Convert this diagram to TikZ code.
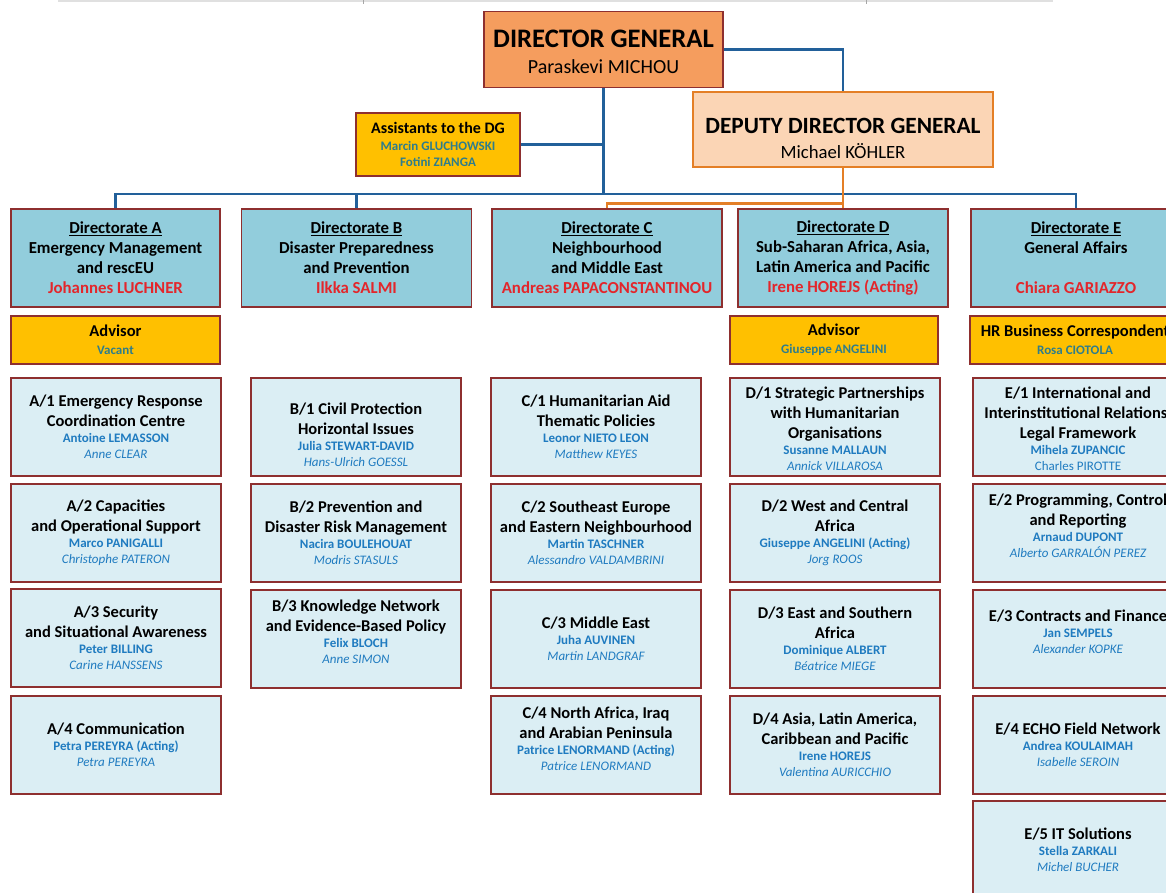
\documentclass[tikz,border=0pt]{standalone}
\usepackage{fontspec}
\setmainfont{Carlito}
\definecolor{dgfill}{HTML}{F59D5E}
\definecolor{ddgfill}{HTML}{FBD5B5}
\definecolor{ddgline}{HTML}{E47F26}
\definecolor{gold}{HTML}{FFC000}
\definecolor{dirfill}{HTML}{92CDDC}
\definecolor{unitfill}{HTML}{DBEEF4}
\definecolor{boxred}{HTML}{8E2F2F}
\definecolor{conblue}{HTML}{22609A}
\definecolor{namered}{HTML}{E3262B}
\definecolor{nameblue}{HTML}{1F7BC0}
\definecolor{advname}{HTML}{2E7D8C}
\newcommand\pn[1]{{\fontsize{13}{15}\selectfont\color{nameblue}#1}}
\newcommand\pdep[1]{{\fontsize{13}{15}\selectfont\mdseries\itshape\color{nameblue}#1}}
\newcommand\pup[1]{{\fontsize{13}{15}\selectfont\mdseries\color{nameblue}#1}}
\newcommand\rn[1]{{\color{namered}#1}}
\newcommand\an[1]{{\fontsize{13}{15}\selectfont\color{advname}#1}}
\tikzset{
  bx/.style={draw=boxred, line width=1.3pt, align=center, inner sep=0pt},
  unitbox/.style={bx, fill=unitfill, minimum width=210pt, minimum height=98pt,
    font=\fontsize{16.5}{20}\selectfont\bfseries},
  dirbox/.style={bx, fill=dirfill, line width=1.6pt, minimum height=98pt,
    font=\fontsize{16.8}{20}\selectfont\bfseries},
  advbox/.style={bx, fill=gold, line width=1.6pt, minimum height=48pt,
    font=\fontsize{16.5}{18}\selectfont\bfseries},
  bl/.style={draw=conblue, line width=2.2pt},
  orline/.style={draw=ddgline, line width=2.4pt},
}
\begin{document}
\begin{tikzpicture}[x=1pt,y=-1pt]
\useasboundingbox (0,0) rectangle (1166,892);
\clip (0,0) rectangle (1166,892);
\fill[white] (0,0) rectangle (1166,892);
% faint top rule
\draw[black!12, line width=1.5pt] (58,1) -- (1053,1);
\draw[black!35, line width=0.8pt] (363,0) -- (363,4);
\draw[black!35, line width=0.8pt] (866,0) -- (866,4);

% top level
\node[bx, fill=dgfill, line width=1.3pt, minimum width=239pt, minimum height=76pt,
  font=\fontsize{26.7}{26}\selectfont\bfseries] (dg) at (603.5,49.5)
  {\rule{0pt}{22pt}DIRECTOR GENERAL\\{\fontsize{20}{22}\selectfont\mdseries Paraskevi MICHOU}};
\node[bx, draw=ddgline, fill=ddgfill, line width=2.4pt, minimum width=300pt, minimum height=75pt,
  font=\fontsize{23.3}{25}\selectfont\bfseries] (ddg) at (843,129.5)
  {\rule{0pt}{34pt}DEPUTY DIRECTOR GENERAL\\{\fontsize{18.7}{20}\selectfont\mdseries Michael KÖHLER}};
\node[bx, fill=gold, line width=1.3pt, minimum width=164pt, minimum height=63pt,
  font=\fontsize{16}{16.5}\selectfont\bfseries] (asst) at (438,144.5)
  {Assistants to the DG\\\an{Marcin GLUCHOWSKI}\\\an{Fotini ZIANGA}};

% directorates
\node[dirbox, minimum width=209pt] (dirA) at (115.5,258)
  {\underline{Directorate A}\\Emergency Management\\and rescEU\\\rn{Johannes LUCHNER}};
\node[dirbox, minimum width=230pt] (dirB) at (356.5,258)
  {\underline{Directorate B}\\Disaster Preparedness\\and Prevention\\\rn{Ilkka SALMI}};
\node[dirbox, minimum width=230pt] (dirC) at (607,258)
  {\underline{Directorate C}\\Neighbourhood\\and Middle East\\\rn{Andreas PAPACONSTANTINOU}};
\node[dirbox, minimum width=210pt] (dirD) at (843,258)
  {\underline{Directorate D}\\Sub-Saharan Africa, Asia,\\Latin America and Pacific\\\rn{Irene HOREJS (Acting)}};
\node[dirbox, minimum width=210pt] (dirE) at (1076,258)
  {\underline{Directorate E}\\General Affairs\\[20pt]\rn{Chiara GARIAZZO}};

% advisors
\node[advbox, minimum width=209pt] (advA) at (115.5,340) {Advisor\\\an{Vacant}};
\node[advbox, minimum width=208pt] (advD) at (834,340) {Advisor\\\an{Giuseppe ANGELINI}};
\node[advbox, minimum width=210pt] (advE) at (1075,340) {HR Business Correspondent\\\an{Rosa CIOTOLA}};

% connectors
\coordinate (bus) at (0,194);
\coordinate (obus) at (0,203.5);
\draw[bl] (dg.east) -| (ddg.north);
\draw[bl] (dg.south) -- (dg.south |- bus);
\draw[bl] (asst.east) -- (asst.east -| dg.south);
\draw[bl] (dirA.north) -- (dirA.north |- bus) -- (dirE.north |- bus) -- (dirE.north);
\draw[bl] (dirB.north) -- (dirB.north |- bus);
\draw[orline] (ddg.south) -- (dirD.north);
\draw[orline] (dirC.north) -- (dirC.north |- obus) -- (dirD.north |- obus);

% column A
\node[unitbox] (a1) at (116,427) {A/1 Emergency Response\\Coordination Centre\\[-4pt]\pn{Antoine LEMASSON}\\[-4pt]\pdep{Anne CLEAR}};
\node[unitbox] (a2) at (116,533) {A/2 Capacities\\and Operational Support\\[-4pt]\pn{Marco PANIGALLI}\\[-4pt]\pdep{Christophe PATERON}};
\node[unitbox] (a3) at (116,638) {A/3 Security\\and Situational Awareness\\[-4pt]\pn{Peter BILLING}\\[-4pt]\pdep{Carine HANSSENS}};
\node[unitbox] (a4) at (116,745) {A/4 Communication\\[-4pt]\pn{Petra PEREYRA (Acting)}\\[-4pt]\pdep{Petra PEREYRA}};

% column B
\node[unitbox] (b1) at (356,427) {\rule{0pt}{28pt}B/1 Civil Protection\\Horizontal Issues\\[-4pt]\pn{Julia STEWART-DAVID}\\[-4pt]\pdep{Hans-Ulrich GOESSL}};
\node[unitbox] (b2) at (356,533) {B/2 Prevention and\\Disaster Risk Management\\[-4pt]\pn{Nacira BOULEHOUAT}\\[-4pt]\pdep{Modris STASULS}};
\node[unitbox] (b3) at (356,639) {B/3 Knowledge Network\\and Evidence-Based Policy\\[-4pt]\pn{Felix BLOCH}\\[-4pt]\pdep{Anne SIMON}\\[-6pt]\mbox{}};

% column C
\node[unitbox] (c1) at (596,427) {C/1 Humanitarian Aid\\Thematic Policies\\[-4pt]\pn{Leonor NIETO LEON}\\[-4pt]\pdep{Matthew KEYES}};
\node[unitbox] (c2) at (596,533) {C/2 Southeast Europe\\and Eastern Neighbourhood\\[-4pt]\pn{Martin TASCHNER}\\[-4pt]\pdep{Alessandro VALDAMBRINI}};
\node[unitbox] (c3) at (596,639) {C/3 Middle East\\[-4pt]\pn{Juha AUVINEN}\\[-4pt]\pdep{Martin LANDGRAF}};
\node[unitbox] (c4) at (596,745) {C/4 North Africa, Iraq\\and Arabian Peninsula\\[-4pt]\pn{Patrice LENORMAND (Acting)}\\[-4pt]\pdep{Patrice LENORMAND}\\[-8pt]\mbox{}};

% column D
\node[unitbox] (d1) at (835,427) {\rule{0pt}{16pt}D/1 Strategic Partnerships\\with Humanitarian\\Organisations\\[-4pt]\pn{Susanne MALLAUN}\\[-4pt]\pdep{Annick VILLAROSA}};
\node[unitbox] (d2) at (835,533) {D/2 West and Central\\Africa\\[-4pt]\pn{Giuseppe ANGELINI (Acting)}\\[-4pt]\pdep{Jorg ROOS}};
\node[unitbox] (d3) at (835,639) {D/3 East and Southern\\Africa\\[-4pt]\pn{Dominique ALBERT}\\[-4pt]\pdep{Béatrice MIEGE}};
\node[unitbox] (d4) at (835,745) {D/4 Asia, Latin America,\\Caribbean and Pacific\\[-4pt]\pn{Irene HOREJS}\\[-4pt]\pdep{Valentina AURICCHIO}};

% column E
\node[unitbox] (e1) at (1078,427) {\rule{0pt}{16pt}E/1 International and\\Interinstitutional Relations,\\Legal Framework\\[-4pt]\pn{Mihela ZUPANCIC}\\[-4pt]\pup{Charles PIROTTE}};
\node[unitbox] (e2) at (1078,533) {E/2 Programming, Control\\and Reporting\\[-4pt]\pn{Arnaud DUPONT}\\[-4pt]\pdep{Alberto GARRALÓN PEREZ}\\[-6pt]\mbox{}};
\node[unitbox] (e3) at (1078,639) {E/3 Contracts and Finance\\[-4pt]\pn{Jan SEMPELS}\\[-4pt]\pdep{Alexander KOPKE}\\[-6pt]\mbox{}};
\node[unitbox] (e4) at (1078,745) {E/4 ECHO Field Network\\[-4pt]\pn{Andrea KOULAIMAH}\\[-4pt]\pdep{Isabelle SEROIN}};
\node[unitbox] (e5) at (1078,850) {E/5 IT Solutions\\[-4pt]\pn{Stella ZARKALI}\\[-4pt]\pdep{Michel BUCHER}};
\end{tikzpicture}
\end{document}
